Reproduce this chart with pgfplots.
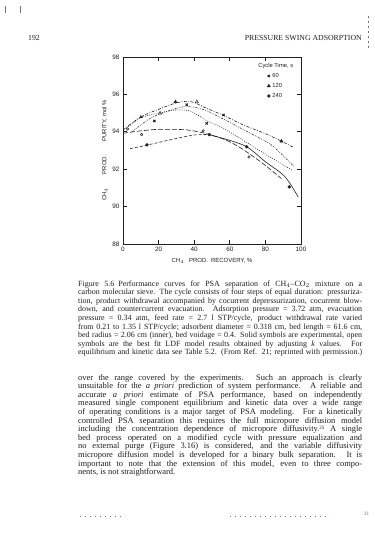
\documentclass[border=0pt]{standalone}
\usepackage{pgfplots}
\pgfplotsset{compat=1.18}
\usepackage{fontspec}
\setmainfont{Liberation Serif}
\newfontfamily\chartfont{Liberation Sans}
\definecolor{ink}{gray}{0.12}
\definecolor{noise}{gray}{0.45}
\newcommand{\capfont}{\fontsize{8}{8.6}\selectfont}
\newcommand{\bodyfont}{\fontsize{8.5}{9}\selectfont}
\begin{document}
\begin{tikzpicture}
\fill[white] (0,0) rectangle (375bp,-533bp);
% scan marks
\draw[noise, line width=0.5bp] (5bp,-6bp) -- (5bp,-13bp) (20bp,-6bp) -- (20bp,-13bp);
\draw[noise, line width=0.5bp, dash pattern=on 2bp off 3bp] (368bp,-16bp) -- (368bp,-50bp);
\draw[noise, line width=0.5bp, dash pattern=on 1bp off 4bp] (80bp,-516bp) -- (125bp,-516bp) (230bp,-516bp) -- (330bp,-516bp);
% header
\node[anchor=base west, inner sep=0, font=\fontsize{7.8}{9}\selectfont, text=ink] at (28bp,-40bp) {192};
\node[anchor=base east, inner sep=0, font=\fontsize{7.8}{9}\selectfont, text=ink] at (362bp,-40bp) {PRESSURE SWING ADSORPTION};
\begin{axis}[
  at={(123bp,-244bp)}, anchor=south west,
  scale only axis, width=178bp, height=187bp,
  xmin=0, xmax=100, ymin=88, ymax=98,
  xtick={0,20,...,100}, ytick={88,90,...,98},
  tick align=inside, major tick length=4bp,
  axis line style={line width=0.8pt, ink},
  every tick/.style={ink, line width=0.7pt},
  tick label style={font=\chartfont\fontsize{6.4}{7}\selectfont, text=ink},
  /pgf/number format/assume math mode=true,
  xlabel={CH$_4$\hspace{5bp}PROD.\hspace{3bp}RECOVERY, \%},
  ylabel={CH$_4$\hspace{14bp}PROD.\hspace{14bp}PURITY, mol \%},
  label style={font=\chartfont\fontsize{6}{7}\selectfont, text=ink},
  xlabel style={yshift=1bp},
  ylabel style={yshift=-2bp},
  legend style={draw=none, fill=none, at={(rel axis cs:0.985,0.99)}, anchor=north east,
    font=\chartfont\fontsize{5.8}{6.5}\selectfont, text=ink, row sep=0.5bp},
  legend cell align=left,
]
% legend
\addlegendimage{empty legend}
\addlegendentry{\hspace{-14bp}Cycle Time, s}
\addlegendimage{only marks, mark=x, mark size=1.6bp, line width=0.9pt, ink}
\addlegendentry{60}
\addlegendimage{only marks, mark=triangle*, mark size=1.8bp, ink}
\addlegendentry{120}
\addlegendimage{only marks, mark=*, mark size=1.5bp, ink}
\addlegendentry{240}
% curves
\addplot[forget plot, ink, line width=0.6pt, smooth, dash pattern=on 3bp off 1.5bp on 0.8bp off 1.5bp]
 coordinates {(0,94.1) (10,94.8) (20,95.2) (30,95.55) (38,95.62) (46,95.3) (57,94.85) (68,94.35) (80,93.9) (89,93.5) (96,93.15)};
\addplot[forget plot, ink, line width=0.6pt, smooth, dash pattern=on 0.8bp off 1.4bp]
 coordinates {(2,94.2) (10,94.75) (20,95.0) (30,95.17) (38,95.1) (47,94.6) (57,94.15) (70,93.4) (80,92.8) (95,91.95)};
\addplot[forget plot, ink, line width=0.55pt, smooth, dash pattern=on 2bp off 1.2bp on 0.7bp off 1.2bp on 0.7bp off 1.2bp]
 coordinates {(5,94.0) (15,94.7) (25,95.1) (35,95.35) (45,95.2) (55,94.75) (65,94.25) (75,93.75) (84,93.25) (96,92.15)};
\addplot[forget plot, ink, line width=0.6pt, smooth, dash pattern=on 5bp off 2bp]
 coordinates {(0,93.92) (10,94.05) (20,94.13) (36,94.1) (48,93.87) (58,93.55) (65,93.2) (72,92.76) (80,92.2) (89,91.5)};
\addplot[forget plot, ink, line width=0.6pt, smooth, dash pattern=on 3bp off 2bp]
 coordinates {(4,93.1) (14,93.3) (26,93.56) (40,93.83) (48,93.85)};
\addplot[forget plot, ink, line width=0.6pt, smooth]
 coordinates {(48,93.85) (58,93.6) (69.5,93.2) (80,92.4) (91,91.6) (98.5,90.5)};
% experimental (solid) symbols
\addplot[forget plot, only marks, mark=x, mark size=1.6bp, line width=0.9pt, ink]
 coordinates {(10.3,94.8) (17.6,94.58) (35.8,95.45) (47,94.45) (56.5,94.9)};
\addplot[forget plot, only marks, mark=triangle*, mark size=1.8bp, ink]
 coordinates {(29.5,95.6) (89,93.5)};
\addplot[forget plot, only marks, mark=*, mark size=1.5bp, ink]
 coordinates {(13.5,93.3) (48.5,93.85) (69.5,93.2) (93.4,91.05)};
% model (open) symbols
\addplot[forget plot, only marks, mark=triangle, mark size=1.8bp, line width=0.5pt, ink]
 coordinates {(20.8,95.0) (41.5,95.6)};
\addplot[forget plot, only marks, mark=o, mark size=1.3bp, line width=0.5pt, ink]
 coordinates {(2.5,94.15) (10.4,93.85) (45,94.05) (70.8,92.65)};
\end{axis}
% caption
\begin{scope}[every node/.style={anchor=base west, inner sep=0, text=ink, font=\capfont}]
\node at (78bp,-286bp) {\makebox[284bp][s]{Figure 5.6\hspace{4bp}Performance curves for PSA separation of CH$_4$--CO$_2$ mixture on a}};
\node at (78bp,-294.6bp) {\makebox[284bp][s]{carbon molecular sieve. The cycle consists of four steps of equal duration: pressuriza-}};
\node at (78bp,-303.2bp) {\makebox[284bp][s]{tion, product withdrawal accompanied by cocurrent depressurization, cocurrent blow-}};
\node at (78bp,-311.8bp) {\makebox[284bp][s]{down, and countercurrent evacuation. Adsorption pressure = 3.72 atm, evacuation}};
\node at (78bp,-320.4bp) {\makebox[284bp][s]{pressure = 0.34 atm, feed rate = 2.7 l STP/cycle, product withdrawal rate varied}};
\node at (78bp,-329bp) {\makebox[284bp][s]{from 0.21 to 1.35 l STP/cycle; adsorbent diameter = 0.318 cm, bed length = 61.6 cm,}};
\node at (78bp,-337.6bp) {\makebox[284bp][s]{bed radius = 2.06 cm (inner), bed voidage = 0.4. Solid symbols are experimental, open}};
\node at (78bp,-346.2bp) {\makebox[284bp][s]{symbols are the best fit LDF model results obtained by adjusting \emph{k} values. For}};
\node at (78bp,-354.8bp) {\makebox[284bp][s]{equilibrium and kinetic data see Table 5.2. (From Ref. 21; reprinted with permission.)}};
\end{scope}
% body text
\begin{scope}[every node/.style={anchor=base west, inner sep=0, text=ink, font=\bodyfont}]
\node at (78bp,-380bp) {\makebox[284bp][s]{over the range covered by the experiments. Such an approach is clearly}};
\node at (78bp,-388.6bp) {\makebox[284bp][s]{unsuitable for the \emph{a priori} prediction of system performance. A reliable and}};
\node at (78bp,-397.2bp) {\makebox[284bp][s]{accurate \emph{a priori} estimate of PSA performance, based on independently}};
\node at (78bp,-405.8bp) {\makebox[284bp][s]{measured single component equilibrium and kinetic data over a wide range}};
\node at (78bp,-414.4bp) {\makebox[284bp][s]{of operating conditions is a major target of PSA modeling. For a kinetically}};
\node at (78bp,-423bp) {\makebox[284bp][s]{controlled PSA separation this requires the full micropore diffusion model}};
\node at (78bp,-431.6bp) {\makebox[284bp][s]{including the concentration dependence of micropore diffusivity.\raisebox{2.2bp}{\fontsize{5}{5}\selectfont 25} A single}};
\node at (78bp,-440.2bp) {\makebox[284bp][s]{bed process operated on a modified cycle with pressure equalization and}};
\node at (78bp,-448.8bp) {\makebox[284bp][s]{no external purge (Figure 3.16) is considered, and the variable diffusivity}};
\node at (78bp,-457.4bp) {\makebox[284bp][s]{micropore diffusion model is developed for a binary bulk separation. It is}};
\node at (78bp,-466bp) {\makebox[284bp][s]{important to note that the extension of this model, even to three compo-}};
\node at (78bp,-474.6bp) {nents, is not straightforward.};
\end{scope}
\node[anchor=base, inner sep=0, font=\fontsize{5}{6}\selectfont, text=noise] at (366bp,-515bp) {33};
\path[use as bounding box] (0,0) rectangle (375bp,-533bp);
\end{tikzpicture}
\end{document}
